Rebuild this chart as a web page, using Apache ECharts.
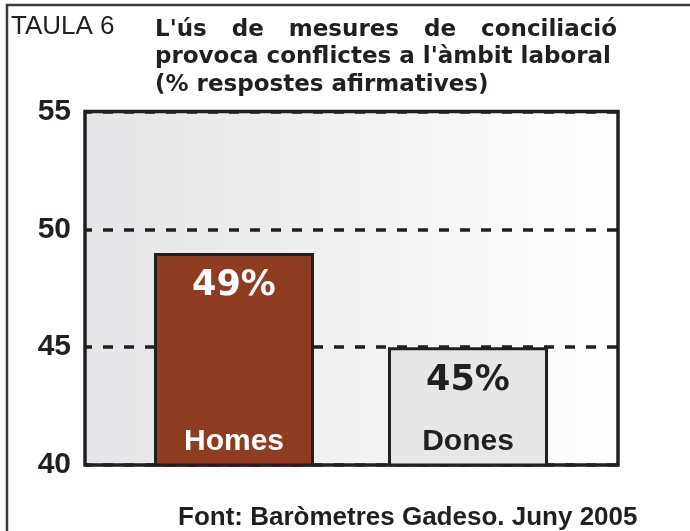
<!DOCTYPE html>
<html>
<head>
<meta charset="utf-8">
<script src="https://cdn.jsdelivr.net/npm/echarts@6/dist/echarts.min.js"></script>
<style>
  html, body { margin: 0; padding: 0; background: #ffffff; }
  #chart { width: 690px; height: 531px; }
</style>
</head>
<body>
<div id="chart"></div>
<script>
// ---- data ----
const categories = ['Homes', 'Dones'];
const values = [49, 45];
const yMin = 40;
const yMax = 55;
const yStep = 5;
const tableTag = 'TAULA 6';
const titleLines = [
  "L'ús de mesures de conciliació",
  "provoca conflictes a l'àmbit laboral",
  "(% respostes afirmatives)"
];
const sourceNote = 'Font: Baròmetres Gadeso. Juny 2005';

// ---- styles ----
const INK = '#231f20';
const BAR_FILL = ['#8e3d21', '#e6e7e9'];
const LABEL_INK = ['#ffffff', INK];
const SANS = '"Liberation Sans", Arial, sans-serif';
const WIDE = '"DejaVu Sans", sans-serif';
const TITLE_FONT = 'bold 23px "DejaVu Sans"';

const chart = echarts.init(document.getElementById('chart'), null, { renderer: 'canvas' });

// Lay a heading line out word by word so it spans the full heading width.
function justifiedLine(text, font, left, right, y) {
  const ctx = document.createElement('canvas').getContext('2d');
  ctx.font = font;
  const words = text.split(' ');
  const widths = words.map(w => ctx.measureText(w).width);
  const total = widths.reduce((a, b) => a + b, 0);
  const gap = (right - left - total) / (words.length - 1);
  let x = left;
  return words.map((w, i) => {
    const el = {
      type: 'text', x: x, y: y,
      style: { text: w, font: font, fill: INK, align: 'left', verticalAlign: 'middle' }
    };
    x += widths[i] + gap;
    return el;
  });
}

const textEl = (text, x, y, font) => ({
  type: 'text', x: x, y: y,
  style: { text: text, font: font, fill: INK, align: 'left', verticalAlign: 'middle' }
});

const graphics = [
  {
    type: 'rect', z: -1,
    shape: { x: 7, y: 5, width: 1000, height: 1000 },
    style: { fill: null, stroke: '#3a3a3a', lineWidth: 2.5 }
  },
  textEl(tableTag, 11, 27, '26px "Liberation Sans"'),
  ...justifiedLine(titleLines[0], TITLE_FONT, 155, 617, 30),
  textEl(titleLines[1], 155, 57, TITLE_FONT),
  textEl(titleLines[2], 155, 85, TITLE_FONT),
  textEl(sourceNote, 178, 518, 'bold 26px "Liberation Sans"')
];

const option = {
  animation: false,
  backgroundColor: '#ffffff',
  graphic: graphics,
  grid: [
    {
      left: 85, right: 72, top: 111.5, bottom: 66,
      show: true,
      backgroundColor: new echarts.graphic.LinearGradient(0, 0, 1, 0, [
        { offset: 0, color: '#e4e5e8' },
        { offset: 0.5, color: '#f1f1f2' },
        { offset: 1, color: '#ffffff' }
      ]),
      borderColor: INK,
      borderWidth: 3.5
    },
    { left: 117, right: 105, top: 111.5, bottom: 66 }
  ],
  xAxis: [
    { gridIndex: 0, type: 'category', data: categories, show: false },
    {
      gridIndex: 1, type: 'category', data: categories, z: 10,
      axisLine: { show: false },
      axisTick: { show: false },
      axisLabel: {
        inside: true,
        margin: 8,
        formatter: (v, i) => '{c' + i + '|' + v + '}',
        rich: {
          c0: { fontFamily: SANS, fontWeight: 'bold', fontSize: 30, color: LABEL_INK[0] },
          c1: { fontFamily: SANS, fontWeight: 'bold', fontSize: 30, color: LABEL_INK[1] }
        }
      }
    }
  ],
  yAxis: [
    {
      gridIndex: 0, type: 'value', min: yMin, max: yMax, interval: yStep,
      axisLine: { show: false },
      axisTick: { show: false },
      axisLabel: {
        margin: 14,
        fontFamily: SANS, fontWeight: 'bold', fontSize: 30, color: INK
      },
      splitLine: {
        lineStyle: { color: INK, width: 3.5, type: [10, 11], dashOffset: 3 }
      }
    },
    { gridIndex: 1, type: 'value', min: yMin, max: yMax, interval: yStep, show: false }
  ],
  series: [
    {
      type: 'bar',
      xAxisIndex: 1, yAxisIndex: 1,
      barWidth: 160,
      z: 3,
      data: values.map((v, i) => ({
        value: v,
        itemStyle: { color: BAR_FILL[i], borderColor: INK, borderWidth: 3 },
        label: { color: LABEL_INK[i] }
      })),
      label: {
        show: true,
        position: 'insideTop',
        distance: 16,
        formatter: '{c}%',
        fontFamily: WIDE,
        fontWeight: 'bold',
        fontSize: 35
      }
    }
  ]
};

chart.setOption(option);
</script>
</body>
</html>
